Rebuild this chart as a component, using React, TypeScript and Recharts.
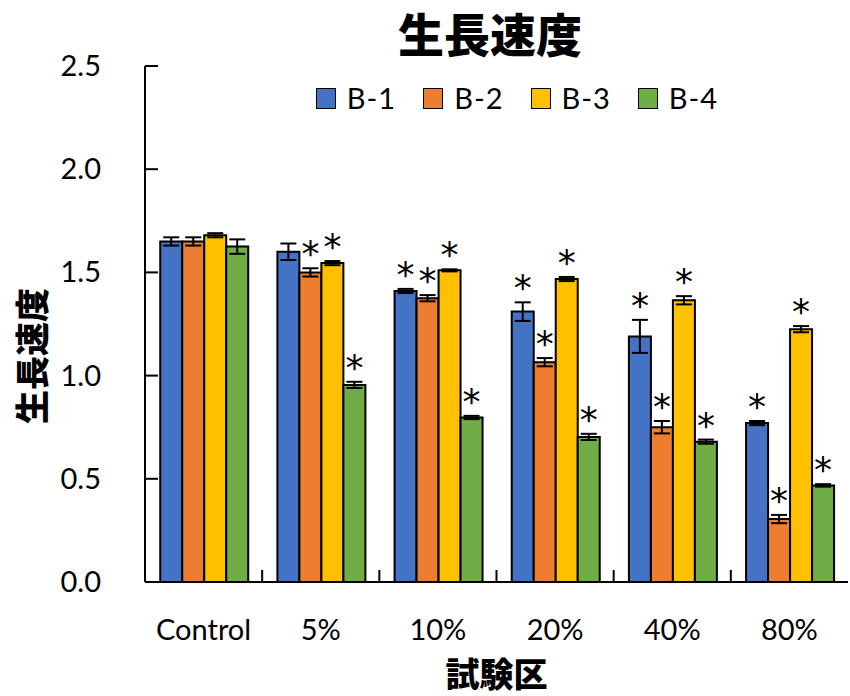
import React from "react"
import { Bar, BarChart, ErrorBar, LabelList, XAxis, YAxis } from "recharts"

const categories = ["Control", "5%", "10%", "20%", "40%", "80%"]

const b1 = [1.65, 1.6, 1.41, 1.31, 1.19, 0.77]
const b2 = [1.65, 1.5, 1.375, 1.065, 0.75, 0.305]
const b3 = [1.68, 1.545, 1.51, 1.468, 1.365, 1.225]
const b4 = [1.625, 0.955, 0.797, 0.703, 0.68, 0.468]

const b1Err = [0.02, 0.04, 0.01, 0.045, 0.08, 0.01]
const b2Err = [0.02, 0.02, 0.015, 0.02, 0.03, 0.02]
const b3Err = [0.01, 0.01, 0.005, 0.01, 0.02, 0.015]
const b4Err = [0.035, 0.015, 0.008, 0.015, 0.01, 0.006]

// "*" marks (significant vs Control)
const b1Sig = [false, false, true, true, true, true]
const b2Sig = [false, true, true, true, true, true]
const b3Sig = [false, true, true, true, true, true]
const b4Sig = [false, true, true, true, true, true]

const yTicks = [0, 0.5, 1.0, 1.5, 2.0, 2.5]

const series = [
  { key: "b1", name: "B-1", color: "#4472C4", values: b1, err: b1Err, sig: b1Sig },
  { key: "b2", name: "B-2", color: "#ED7D31", values: b2, err: b2Err, sig: b2Sig },
  { key: "b3", name: "B-3", color: "#FFC000", values: b3, err: b3Err, sig: b3Sig },
  { key: "b4", name: "B-4", color: "#70AD47", values: b4, err: b4Err, sig: b4Sig },
]

const data = categories.map((name, i) => {
  const row: Record<string, any> = { name }
  series.forEach((s) => {
    row[s.key] = s.values[i]
    row[s.key + "Err"] = s.err[i]
  })
  return row
})

const W = 850
const H = 696
const M = { top: 66, right: 2, bottom: 0, left: 0 }
const Y_W = 145
const X_H = 114
const plotW = W - M.left - M.right - Y_W
const plotH = H - M.top - M.bottom - X_H
const band = plotW / categories.length
const pxPerUnit = plotH / 2.5

const latin = "Lato, 'Noto Sans CJK JP', sans-serif"
const jp = "'Noto Sans CJK JP', sans-serif"

function YTick(props: any) {
  const { x, y, payload } = props
  return (
    <g>
      <line x1={x} x2={x + 13} y1={y} y2={y} stroke="#000" strokeWidth={2} />
      <text x={x - 44} y={y} dy={10} textAnchor="end" fontSize={29} fontFamily={latin} fill="#000">
        {Number(payload.value).toFixed(1)}
      </text>
    </g>
  )
}

function XTick(props: any) {
  const { x, y, payload, index } = props
  return (
    <g>
      {index < categories.length - 1 && (
        <line x1={x + band / 2} x2={x + band / 2} y1={y} y2={y - 12} stroke="#000" strokeWidth={2} />
      )}
      <text x={x} y={y + 58} textAnchor="middle" fontSize={29} fontFamily={latin} fill="#000">
        {payload.value}
      </text>
    </g>
  )
}

function starLabel(err: number[], sig: boolean[]) {
  return (props: any) => {
    const { x, y, width, index } = props
    if (!sig[index]) return null
    const top = y - err[index] * pxPerUnit
    return (
      <text x={x + width / 2} y={top - 2} textAnchor="middle" fontSize={36} fontFamily="'DejaVu Sans', sans-serif" fill="#000">
        *
      </text>
    )
  }
}

function LegendBox() {
  return (
    <div
      style={{
        position: "absolute",
        top: 84,
        left: 0,
        width: W,
        paddingLeft: 184,
        boxSizing: "border-box",
        display: "flex",
        justifyContent: "center",
        gap: 27,
      }}
    >
      {series.map((s) => (
        <div key={s.key} style={{ display: "flex", alignItems: "center", fontFamily: latin, fontSize: 29, lineHeight: "28px", color: "#000" }}>
          <span
            style={{
              display: "inline-block",
              width: 18,
              height: 19,
              background: s.color,
              border: "1.5px solid #000",
              marginRight: 11,
            }}
          />
          <span style={{ letterSpacing: 1 }}>{s.name}</span>
        </div>
      ))}
    </div>
  )
}

export default function App() {
  return (
    <div style={{ position: "absolute", left: 0, top: 0, width: W, height: H, background: "#fff", overflow: "hidden" }}>
      <div
        style={{
          position: "absolute",
          top: 4,
          left: 0,
          width: W,
          paddingLeft: 130,
          boxSizing: "border-box",
          textAlign: "center",
          fontFamily: jp,
          fontWeight: 900,
          fontSize: 46,
          lineHeight: "56px",
          color: "#000",
        }}
      >
        生長速度
      </div>
      <BarChart width={W} height={H} data={data} margin={M} barCategoryGap="13%" barGap={0}>
        <XAxis
          dataKey="name"
          height={X_H}
          tick={<XTick />}
          tickLine={false}
          tickSize={0}
          tickMargin={0}
          interval={0}
          axisLine={{ stroke: "#000", strokeWidth: 2 }}
          label={{
            content: () => (
              <text x={M.left + Y_W + plotW / 2} y={H - 9} textAnchor="middle" fontSize={34} fontWeight={900} fontFamily={jp} fill="#000">
                試験区
              </text>
            ),
          }}
        />
        <XAxis xAxisId="top" orientation="top" dataKey="name" height={0} tick={false} tickLine={false} axisLine={{ stroke: "#000", strokeWidth: 2 }} />
        <YAxis
          width={Y_W}
          domain={[0, 2.5]}
          ticks={yTicks}
          tick={<YTick />}
          tickLine={false}
          tickSize={0}
          tickMargin={0}
          axisLine={{ stroke: "#000", strokeWidth: 2 }}
          label={{
            content: () => (
              <text
                x={30}
                y={M.top + plotH / 2 + 32}
                transform={`rotate(-90 30 ${M.top + plotH / 2 + 32})`}
                textAnchor="middle"
                dominantBaseline="central"
                fontSize={34}
                fontWeight={900}
                fontFamily={jp}
                fill="#000"
              >
                生長速度
              </text>
            ),
          }}
        />
        {series.map((s) => (
          <Bar key={s.key} dataKey={s.key} name={s.name} fill={s.color} stroke="#000" strokeWidth={2} isAnimationActive={false}>
            <ErrorBar dataKey={s.key + "Err"} width={8} stroke="#000" strokeWidth={2} direction="y" isAnimationActive={false} />
            <LabelList dataKey={s.key} content={starLabel(s.err, s.sig)} />
          </Bar>
        ))}
      </BarChart>
      <LegendBox />
    </div>
  )
}
